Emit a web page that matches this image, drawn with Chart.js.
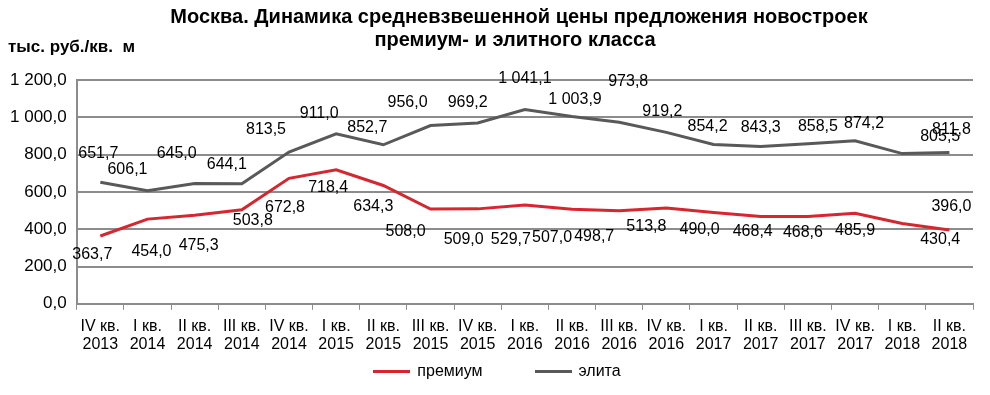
<!DOCTYPE html>
<html>
<head>
<meta charset="utf-8">
<script src="https://cdn.jsdelivr.net/npm/chart.js@4"></script>
<style>
  html, body { margin: 0; padding: 0; background: #fff; }
  #wrap { width: 990px; height: 366px; position: relative; }
  #legend { position: absolute; left: 2px; top: 359px; width: 990px; height: 24px; display: flex;
    justify-content: center; align-items: center;
    font: 16px "Liberation Sans", Arial, sans-serif; color: #000; }
  #legend .item { display: flex; align-items: center; margin: 0 26px; }
  #legend .swatch { width: 37px; height: 3px; margin-right: 7px; }
</style>
</head>
<body>
<div id="wrap"><canvas id="priceChart"></canvas></div>
<div id="legend"></div>
<script>
const quarters = [
  ['IV кв.', '2013'], ['I кв.', '2014'], ['II кв.', '2014'], ['III кв.', '2014'],
  ['IV кв.', '2014'], ['I кв.', '2015'], ['II кв.', '2015'], ['III кв.', '2015'],
  ['IV кв.', '2015'], ['I кв.', '2016'], ['II кв.', '2016'], ['III кв.', '2016'],
  ['IV кв.', '2016'], ['I кв.', '2017'], ['II кв.', '2017'], ['III кв.', '2017'],
  ['IV кв.', '2017'], ['I кв.', '2018'], ['II кв.', '2018']
];

const premium = [363.7, 454.0, 475.3, 503.8, 672.8, 718.4, 634.3, 508.0, 509.0, 529.7,
  507.0, 498.7, 513.8, 490.0, 468.4, 468.6, 485.9, 430.4, 396.0];

const elite = [651.7, 606.1, 645.0, 644.1, 813.5, 911.0, 852.7, 956.0, 969.2, 1041.1,
  1003.9, 973.8, 919.2, 854.2, 843.3, 858.5, 874.2, 805.5, 811.8];

const yTicks = [0, 200, 400, 600, 800, 1000, 1200];

const titleLines = ['Москва. Динамика средневзвешенной цены предложения новостроек', 'премиум- и элитного класса'];
const unitText = 'тыс. руб./кв.  м';

// label nudges (px) relative to each point, as they sit in the original
const eliteShift = [[-2,-29],[-20,-21],[-18,-30],[-15,-19],[-23,-22],[-17,-20],[-16,-17],[-23,-23],[-10,-20],[0,-31],
  [3,-17],[9,-41],[-4,-21],[-6,-18],[0,-19],[10,-17],[9,-17],[38,-17],[2,-23]];
const premiumShift = [[-8,19],[4,32],[4,30],[11,11],[-4,29],[-8,18],[-10,21],[-25,23],[-14,31],[-14,35],
  [-20,28],[-25,26],[-20,19],[-14,17],[-8,15],[-5,16],[0,17],[38,16],[2,-23]];

const fmt = v => {
  const s = v.toFixed(1).replace('.', ',');
  const [a, b] = s.split(',');
  return a.replace(/\B(?=(\d{3})+(?!\d))/g, ' ') + ',' + b;
};

const RED = '#d8262e';
const GREY = '#595959';
const FONT = '"Liberation Sans", Arial, sans-serif';

const labelPlugin = {
  id: 'pointLabels',
  afterDatasetsDraw(chart) {
    const ctx = chart.ctx;
    ctx.save();
    ctx.font = '16px ' + FONT;
    ctx.fillStyle = '#000';
    ctx.textAlign = 'center';
    ctx.textBaseline = 'middle';
    chart.data.datasets.forEach((ds, di) => {
      const shift = di === 0 ? premiumShift : eliteShift;
      chart.getDatasetMeta(di).data.forEach((pt, i) => {
        ctx.fillText(fmt(ds.data[i]), pt.x + shift[i][0], pt.y + shift[i][1]);
      });
    });
    ctx.restore();
  }
};

// title sits a bit right of the canvas centre in the original, so draw it here
const headerPlugin = {
  id: 'header',
  afterDraw(chart) {
    const ctx = chart.ctx;
    ctx.save();
    ctx.fillStyle = '#000';
    ctx.textBaseline = 'middle';
    ctx.textAlign = 'center';
    ctx.font = 'bold 20px ' + FONT;
    ctx.fillText(titleLines[0], 519, 17);
    ctx.fillText(titleLines[1], 515, 40);
    ctx.textAlign = 'left';
    ctx.font = 'bold 17px ' + FONT;
    ctx.fillText(unitText, 8, 47);
    ctx.restore();
  }
};

const ctx = document.getElementById('priceChart').getContext('2d');

const chart = new Chart(ctx, {
  type: 'line',
  data: {
    labels: quarters,
    datasets: [
      { label: 'премиум', data: premium, borderColor: RED, backgroundColor: RED,
        borderWidth: 3, pointRadius: 0, tension: 0 },
      { label: 'элита', data: elite, borderColor: GREY, backgroundColor: GREY,
        borderWidth: 3, pointRadius: 0, tension: 0 }
    ]
  },
  options: {
    responsive: true,
    maintainAspectRatio: false,
    animation: false,
    layout: { padding: { left: 0, right: 17, top: 80, bottom: 5 } },
    plugins: {
      title: { display: false },
      legend: { display: false },
      tooltip: { enabled: false }
    },
    scales: {
      x: {
        offset: true,
        grid: { drawOnChartArea: false, offset: true, color: '#8c8c8c', tickLength: 6 },
        border: { color: '#8c8c8c', width: 2 },
        ticks: {
          color: '#000',
          maxRotation: 0,
          autoSkip: false,
          padding: 8,
          font: { family: FONT, size: 16, lineHeight: 1.1 }
        }
      },
      y: {
        min: 0,
        max: 1200,
        afterBuildTicks: axis => { axis.ticks = yTicks.map(v => ({ value: v })); },
        grid: { color: '#8c8c8c', lineWidth: 2, drawTicks: false },
        border: { color: '#8c8c8c', width: 2 },
        ticks: {
          color: '#000',
          padding: 10,
          font: { family: FONT, size: 17 },
          callback: v => fmt(v)
        }
      }
    }
  },
  plugins: [labelPlugin, headerPlugin]
});

// legend built from the datasets
const legend = document.getElementById('legend');
chart.data.datasets.forEach(ds => {
  const item = document.createElement('div');
  item.className = 'item';
  const sw = document.createElement('span');
  sw.className = 'swatch';
  sw.style.background = ds.borderColor;
  const txt = document.createElement('span');
  txt.textContent = ds.label;
  item.appendChild(sw);
  item.appendChild(txt);
  legend.appendChild(item);
});
</script>
</body>
</html>
